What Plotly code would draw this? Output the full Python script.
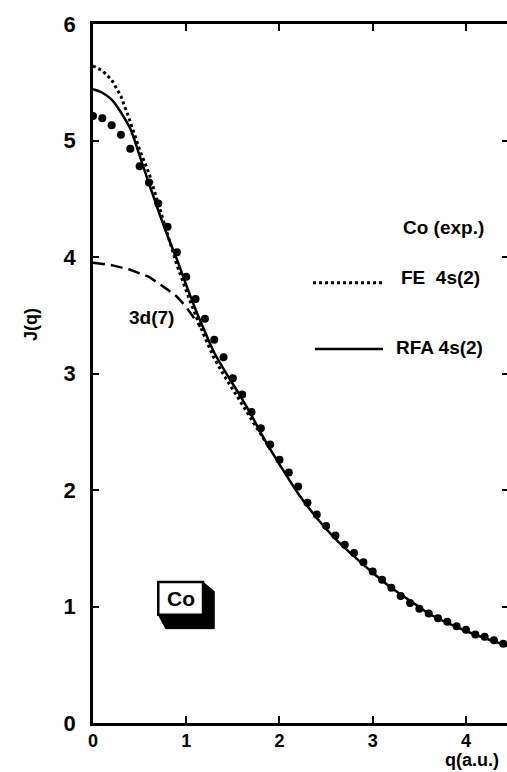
import plotly.graph_objects as go

# Experimental Compton profile (Co)
q_exp = [round(0.1 * i, 1) for i in range(45)]
J_exp = [5.21, 5.19, 5.13, 5.05, 4.93, 4.78, 4.64, 4.46, 4.26, 4.04,
         3.83, 3.64, 3.47, 3.29, 3.14, 2.96, 2.82, 2.67, 2.53, 2.39,
         2.26, 2.15, 2.03, 1.89, 1.79, 1.69, 1.61, 1.53, 1.46, 1.38,
         1.30, 1.23, 1.16, 1.09, 1.03, 0.98, 0.94, 0.90, 0.87, 0.83,
         0.80, 0.76, 0.74, 0.71, 0.68]

# RFA 4s(2) (solid)
q_rfa = [0, 0.1, 0.2, 0.3, 0.4, 0.5, 0.6, 0.7, 0.8, 0.9, 1.0, 1.1, 1.2, 1.3,
         1.4, 1.5, 1.6, 1.7, 1.8, 1.9, 2.0, 2.2, 2.4, 2.6, 2.8, 3.0, 3.2,
         3.4, 3.6, 3.8, 4.0, 4.2, 4.45]
J_rfa = [5.44, 5.41, 5.35, 5.24, 5.10, 4.87, 4.63, 4.40, 4.18, 3.98, 3.76,
         3.55, 3.36, 3.18, 3.04, 2.91, 2.78, 2.64, 2.49, 2.35, 2.22, 1.97,
         1.76, 1.58, 1.43, 1.29, 1.16, 1.05, 0.94, 0.86, 0.79, 0.73, 0.66]

# FE 4s(2) (dotted)
q_fe = [0, 0.1, 0.2, 0.3, 0.4, 0.5, 0.6, 0.7, 0.8, 0.9, 1.0, 1.1, 1.2, 1.3,
        1.4, 1.5, 1.6, 1.7, 1.8, 1.9]
J_fe = [5.64, 5.60, 5.52, 5.38, 5.16, 4.92, 4.72, 4.46, 4.18, 3.93, 3.71,
        3.50, 3.31, 3.13, 2.99, 2.86, 2.74, 2.61, 2.48, 2.35]

# 3d(7) contribution (dashed)
q_3d = [0, 0.2, 0.4, 0.6, 0.8, 0.9, 1.0, 1.1, 1.15]
J_3d = [3.95, 3.93, 3.89, 3.83, 3.72, 3.66, 3.57, 3.46, 3.40]

x_ticks = [0, 1, 2, 3, 4]
y_ticks = [0, 1, 2, 3, 4, 5, 6]

FONT = "Liberation Sans"
BLK = "black"

fig = go.Figure()
fig.add_trace(go.Scatter(x=q_3d, y=J_3d, mode="lines",
                         line=dict(color=BLK, width=2.5, dash="12px,6px"),
                         showlegend=False))
fig.add_trace(go.Scatter(x=q_fe, y=J_fe, mode="lines",
                         line=dict(color=BLK, width=3, dash="dot"),
                         showlegend=False))
fig.add_trace(go.Scatter(x=q_rfa, y=J_rfa, mode="lines", line_shape="spline",
                         line=dict(color=BLK, width=2.5), showlegend=False))
fig.add_trace(go.Scatter(x=q_exp, y=J_exp, mode="markers",
                         marker=dict(color=BLK, size=8), showlegend=False))
# dummy trace for the right-hand tick axis
fig.add_trace(go.Scatter(x=[None], y=[None], yaxis="y2", showlegend=False))

XR = [0, 4.44]
YR = [0, 6]

fig.update_layout(
    width=507, height=772,
    margin=dict(l=93, r=0, t=24, b=49),
    paper_bgcolor="white", plot_bgcolor="white",
    font=dict(family=FONT, color=BLK),
    xaxis=dict(range=XR, tickvals=x_ticks, ticks="inside", ticklen=7,
               tickwidth=2, tickcolor=BLK, showline=True, linewidth=2.5,
               linecolor=BLK, mirror="ticks", showgrid=False, zeroline=False,
               tickfont=dict(size=18, family=FONT, color=BLK, weight="bold"),
               ticklabelstandoff=0),
    yaxis=dict(range=YR, tickvals=y_ticks, ticks="inside", ticklen=6,
               tickwidth=2, tickcolor=BLK, showline=True, linewidth=2.5,
               linecolor=BLK, showgrid=False, zeroline=False,
               tickfont=dict(size=22, family=FONT, color=BLK, weight="bold"),
               ticklabelstandoff=10),
    yaxis2=dict(range=YR, overlaying="y", side="right", tickvals=[1, 2, 3, 4, 5],
                ticks="inside", ticklen=5, tickwidth=2, tickcolor=BLK,
                showline=False, showgrid=False, zeroline=False,
                showticklabels=False),
)

# axis titles
fig.add_annotation(text="J(q)", xref="paper", yref="paper", x=-0.18, y=0.57,
                   textangle=-90, showarrow=False,
                   font=dict(size=18, family=FONT, weight="bold"))
fig.add_annotation(text="q(a.u.)", xref="paper", yref="paper", x=0.985, y=-0.0695,
                   xanchor="right", yanchor="bottom", showarrow=False,
                   font=dict(size=18, family=FONT, weight="bold"))

# legend-like labels
LF = dict(size=19, family=FONT, weight="bold")
fig.add_annotation(text="Co (exp.)", x=3.30, y=4.25, xanchor="left",
                   showarrow=False, font=LF)
fig.add_annotation(text="FE  4s(2)", x=3.28, y=3.82, xanchor="left",
                   showarrow=False, font=LF)
fig.add_annotation(text="RFA 4s(2)", x=3.23, y=3.22, xanchor="left",
                   showarrow=False, font=LF)
fig.add_shape(type="line", x0=2.36, x1=3.11, y0=3.78, y1=3.78,
              line=dict(color=BLK, width=3, dash="dot"))
fig.add_shape(type="line", x0=2.38, x1=3.11, y0=3.21, y1=3.21,
              line=dict(color=BLK, width=2.5))
fig.add_annotation(text="3d(7)", x=0.36, y=3.485, xanchor="left",
                   showarrow=False, font=dict(size=19, family=FONT, weight="bold"))

# "Co" 3D box
fig.add_shape(type="path",
              path="M 0.70,0.93 L 0.78,0.81 L 1.30,0.81 L 1.30,1.13 L 1.18,1.21 L 1.18,0.93 Z",
              fillcolor=BLK, line=dict(color=BLK, width=1))
fig.add_shape(type="rect", x0=0.70, x1=1.18, y0=0.93, y1=1.21,
              fillcolor="white", line=dict(color=BLK, width=2.5))
fig.add_annotation(text="Co", x=0.94, y=1.07, showarrow=False,
                   font=dict(size=21, family=FONT, weight="bold"))

fig.write_html("out.html")
